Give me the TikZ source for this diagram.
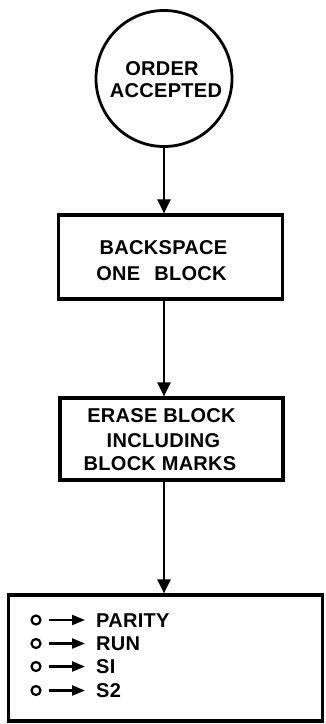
\documentclass[tikz,border=0pt]{standalone}
\usepackage{fontspec}
\setmainfont{Liberation Sans}[LetterSpace=1.5]
\usetikzlibrary{arrows.meta}
\begin{document}
\begin{tikzpicture}[x=1pt,y=-1pt,
  flowbox/.style={draw,line width=3.2pt,inner sep=0pt},
  lbl/.style={anchor=base,inner sep=0pt,font=\bfseries\fontsize{20}{22}\selectfont},
  itemlbl/.style={anchor=base west,inner sep=0pt,font=\bfseries\fontsize{20}{22}\selectfont},
  flow/.style={line width=2.4pt,-{Triangle[length=14pt,width=13pt]}},
  dot/.style={circle,draw,line width=2.2pt,minimum size=9pt,inner sep=0pt},
  small/.style={line width=2.2pt,-{Triangle[length=13pt,width=10pt]},shorten <=7pt,shorten >=11pt}]
\useasboundingbox (0,0) rectangle (326,724);
% start circle
\node[circle,draw,line width=2.8pt,minimum size=136pt,inner sep=0pt] (start) at (164,78.5) {};
\node[lbl] (s1) at (162,75) {ORDER};
\node[lbl] (s2) at (166,97) {ACCEPTED};
% box 1
\node[flowbox,minimum width=224pt,minimum height=84pt] (b1) at (170.5,257) {};
\node[lbl] (b1a) at (163.5,254) {BACKSPACE};
\node[lbl] (b1b) at (161.5,280) {ONE\hspace{14pt}BLOCK};
% box 2
\node[flowbox,minimum width=223pt,minimum height=82pt] (b2) at (171.5,439) {};
\node[lbl] (b2a) at (161.5,422.5) {ERASE BLOCK};
\node[lbl] (b2b) at (163.5,447) {INCLUDING};
\node[lbl] (b2c) at (160,470) {BLOCK MARKS};
% box 3
\node[flowbox,minimum width=314pt,minimum height=126pt] (b3) at (165.5,658) {};
\foreach \i/\yy/\t in {1/620/PARITY,2/643.5/RUN,3/666.5/SI,4/690.5/S2}{
  \node[dot] (o\i) at (36,\yy) {};
  \node[itemlbl] (p\i) at (96,\yy+7) {\t};
  \draw[small] (o\i.east) -- (o\i.east -| p\i.west);
}
% connectors
\draw[flow] (start.south) -- (start.south |- b1.north);
\draw[flow] (b1.south -| start.south) -- (start.south |- b2.north);
\draw[flow] (b2.south -| start.south) -- (start.south |- b3.north);
\end{tikzpicture}
\end{document}
